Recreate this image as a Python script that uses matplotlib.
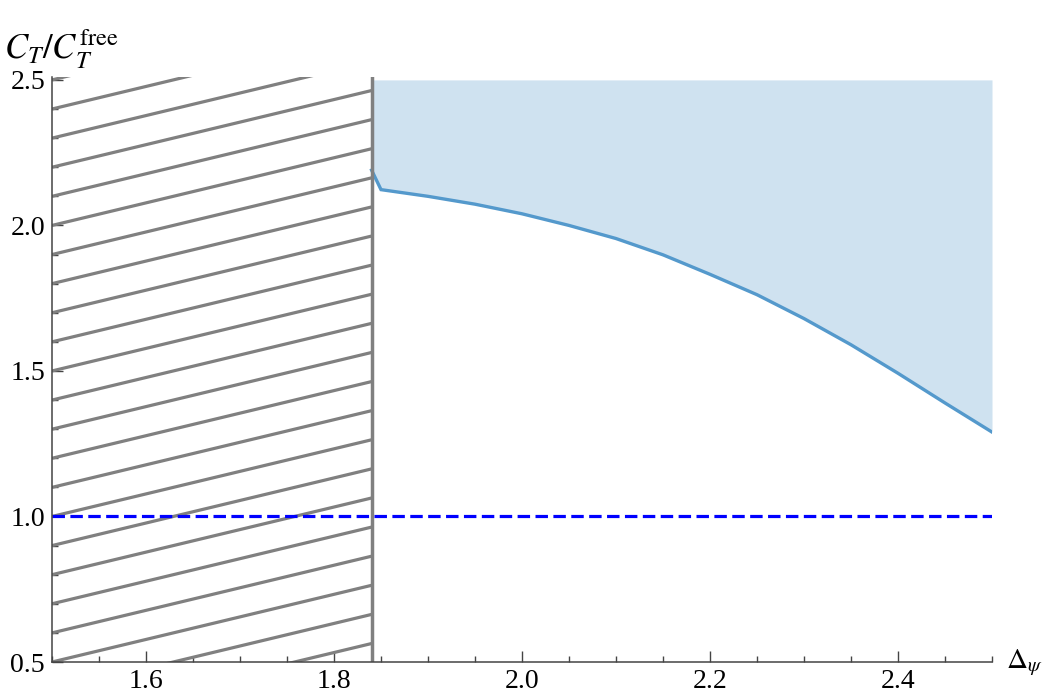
import numpy as np
import matplotlib
matplotlib.use("Agg")
import matplotlib.pyplot as plt
from matplotlib.ticker import MultipleLocator, FixedLocator

# ---- data ----
bound_x = [1.84, 1.85, 1.90, 1.95, 2.00, 2.05, 2.10, 2.15, 2.20, 2.25, 2.30, 2.35, 2.40, 2.45, 2.50]
bound_y = [2.19, 2.123, 2.10, 2.073, 2.04, 2.00, 1.955, 1.899, 1.832, 1.762, 1.680, 1.590, 1.492, 1.39, 1.29]
excluded_edge = 1.84          # hatched region: Delta_psi < 1.84
free_value = 1.0              # C_T / C_T^free = 1
x_ticks = [1.6, 1.8, 2.0, 2.2, 2.4]
y_ticks = [0.5, 1.0, 1.5, 2.0, 2.5]
x_lim = (1.5, 2.5)
y_lim = (0.5, 2.51)

plt.rcParams['mathtext.fontset'] = 'stix'
plt.rcParams['font.family'] = ['Liberation Serif', 'DejaVu Serif']

fig = plt.figure(figsize=(10.42, 6.98), dpi=100)
W, H = 1042, 698
left_px, right_px, top_px, bot_px = 52, 992, 77, 662
ax = fig.add_axes([left_px / W, 1 - bot_px / H, (right_px - left_px) / W, (bot_px - top_px) / H])
ax.set_xlim(*x_lim)
ax.set_ylim(*y_lim)

# allowed region (light blue) above the bound
bx = np.array(bound_x)
by = np.array(bound_y)
ax.fill_between(bx, by, 2.5, color='#cfe2f0', lw=0, zorder=1)
ax.plot(bx, by, color='#5499cc', lw=2.4, zorder=3, solid_joinstyle='miter')

# hatched excluded region (decorative pattern)
slope = 0.775
hx = np.array([x_lim[0], excluded_edge])
for y0 in np.arange(0.5 - 0.4, 2.5 + 0.001, 0.1):
    ax.plot(hx, y0 + slope * (hx - x_lim[0]), color='#808080', lw=2.3, zorder=2,
            solid_capstyle='butt')
ax.axvline(excluded_edge, color='#808080', lw=2.5, zorder=4)

# free-theory line
ax.plot(list(x_lim), [free_value, free_value], color='#0000ff', lw=2.3,
        dashes=[3.9, 1.7], zorder=5)

# axes styling
for s in ['top', 'right']:
    ax.spines[s].set_visible(False)
for s in ['left', 'bottom']:
    ax.spines[s].set_color('#444444')
    ax.spines[s].set_linewidth(1.1)
    ax.spines[s].set_zorder(6)

ax.xaxis.set_major_locator(FixedLocator(x_ticks))
ax.xaxis.set_minor_locator(MultipleLocator(0.05))
ax.yaxis.set_major_locator(FixedLocator(y_ticks))
ax.yaxis.set_minor_locator(MultipleLocator(0.1))
ax.set_xticklabels([f"{v:.1f}" for v in x_ticks])
ax.set_yticklabels([f"{v:.1f}" for v in y_ticks])
ax.tick_params(which='both', direction='in', color='#444444', width=1.0, labelsize=20,
               labelcolor='black')
ax.tick_params(which='major', length=8, pad=5)
ax.tick_params(which='minor', length=4)

fig.text(4 / W, 1 - 59 / H, r'$C_T/C_T^{\mathrm{free}}$', fontsize=25, ha='left', va='baseline')
fig.text(1006 / W, 1 - 668 / H, r'$\Delta_\psi$', fontsize=21, ha='left', va='baseline')

fig.savefig('out.png', dpi=100)
